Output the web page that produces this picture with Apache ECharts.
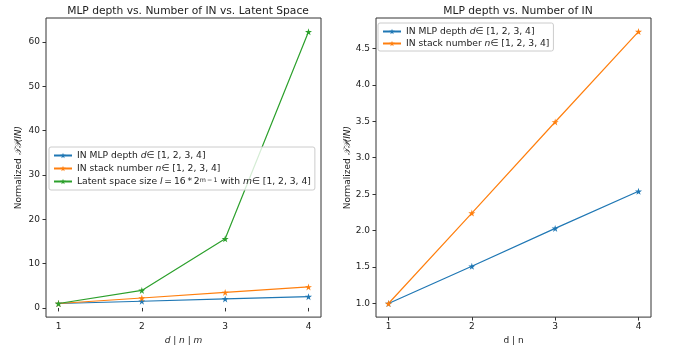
<!DOCTYPE html>
<html><head><meta charset="utf-8">
<script src="https://cdn.jsdelivr.net/npm/echarts@6/dist/echarts.min.js"></script>
<style>html,body{margin:0;padding:0;background:#fff}#c{width:676px;height:350px}</style>
</head><body><div id="c"></div>
<script>
// Data
const xValues = [1, 2, 3, 4];
const mlpDepth = [1.0, 1.51, 2.03, 2.54];
const stackNumber = [1.0, 2.24, 3.49, 4.73];
const latentSpace = [1.0, 3.95, 15.6, 62.3];
const xTicks = [1, 2, 3, 4];
const leftYTicks = [0, 10, 20, 30, 40, 50, 60];
const rightYTicks = [1.0, 1.5, 2.0, 2.5, 3.0, 3.5, 4.0, 4.5];
const nameA = 'IN MLP depth d\u2208 [1, 2, 3, 4]';
const nameB = 'IN stack number n\u2208 [1, 2, 3, 4]';
const nameC = 'Latent space size';

const FONT = 'DejaVu Sans';
const FS = 9;      // tick / label font
const LFS = 9.2;   // legend font
const STAR = 'path://M50,0 L61,35 L98,35 L68,57 L79,91 L50,70 L21,91 L32,57 L2,35 L39,35 Z';
const colors = {A: '#1f77b4', B: '#ff7f0e', C: '#2ca02c'};

function pairs(ys) { return xValues.map((x, i) => [x, ys[i]]); }

const legendRich = {
  n: {fontFamily: FONT, fontSize: LFS, color: '#222'},
  i: {fontFamily: FONT, fontSize: LFS, color: '#222', fontStyle: 'italic'},
  s: {fontFamily: FONT, fontSize: 6.3, color: '#222', verticalAlign: 'top', lineHeight: 8}
};
function legendFmt(name) {
  if (name === nameA) return '{n|IN MLP depth }{i|d}{n|\u2208 [1, 2, 3, 4]}';
  if (name === nameB) return '{n|IN stack number }{i|n}{n|\u2208 [1, 2, 3, 4]}';
  return '{n|Latent space size }{i|l}{n|\u2009=\u200916\u2009*\u20092}{s|m\u2009\u2212\u20091}{n| with }{i|m}{n|\u2208 [1, 2, 3, 4]}';
}

function xAxis(gi, nameRich) {
  return {
    type: 'value', gridIndex: gi, min: 0.85, max: 4.15,
    name: nameRich, nameLocation: 'middle', nameGap: 18,
    nameTextStyle: {fontFamily: FONT, fontSize: FS, color: '#222', rich: {
      i: {fontFamily: FONT, fontSize: FS, color: '#222', fontStyle: 'italic'},
      n: {fontFamily: FONT, fontSize: FS, color: '#222'}}},
    axisLine: {show: false},
    splitLine: {show: false},
    axisTick: {show: true, length: 3.5, customValues: xTicks, lineStyle: {color: '#333'}},
    axisLabel: {customValues: xTicks, fontFamily: FONT, fontSize: FS, color: '#222', margin: 5}
  };
}
function yAxis(gi, min, max, ticks, dec) {
  return {
    type: 'value', gridIndex: gi, min: min, max: max,
    name: '{n|Normalized }{i|\uD835\uDCAF\uD835\uDCAB(IN)}', nameLocation: 'middle', nameGap: 23,
    nameTextStyle: {rich: {
      n: {fontFamily: FONT, fontSize: FS, color: '#222'},
      i: {fontFamily: FONT, fontSize: FS, color: '#222', fontStyle: 'italic'}}},
    axisLine: {show: false},
    splitLine: {show: false},
    axisTick: {show: true, length: 3.5, customValues: ticks, lineStyle: {color: '#333'}},
    axisLabel: {customValues: ticks, fontFamily: FONT, fontSize: FS, color: '#222', margin: 6,
      formatter: v => dec ? Number(v).toFixed(1) : String(Math.round(v))}
  };
}
function series(name, data, color, xi) {
  return {
    type: 'line', name: name, data: pairs(data), xAxisIndex: xi, yAxisIndex: xi,
    symbol: STAR, symbolSize: 7, showSymbol: true,
    lineStyle: {color: color, width: 1.2}, itemStyle: {color: color},
    animation: false, z: 3
  };
}

const chart = echarts.init(document.getElementById('c'), null, {renderer: 'canvas'});
chart.setOption({
  animation: false,
  backgroundColor: '#fff',
  title: [
    {text: 'MLP depth vs. Number of IN vs. Latent Space', left: 183, top: 1, textAlign: 'center',
      textStyle: {fontFamily: FONT, fontSize: 10.7, fontWeight: 'normal', color: '#222'}},
    {text: 'MLP depth vs. Number of IN', left: 513, top: 1, textAlign: 'center',
      textStyle: {fontFamily: FONT, fontSize: 10.7, fontWeight: 'normal', color: '#222'}}
  ],
  grid: [
    {left: 46, right: 355, top: 18, bottom: 30, show: true, borderColor: '#333', borderWidth: 1, backgroundColor: 'transparent'},
    {left: 376, right: 25, top: 18, bottom: 30, show: true, borderColor: '#333', borderWidth: 1, backgroundColor: 'transparent'}
  ],
  xAxis: [xAxis(0, '{i|d} {n|| }{i|n} {n|| }{i|m}'), xAxis(1, '{n|d | n}')],
  yAxis: [yAxis(0, -2.07, 65.4, leftYTicks, false), yAxis(1, 0.8135, 4.9165, rightYTicks, true)],
  legend: [
    {data: [nameA, nameB, nameC], left: 49, top: 147, orient: 'vertical', itemGap: 4,
      itemWidth: 18, itemHeight: 7, padding: [4, 4, 4, 4],
      borderColor: '#ccc', borderWidth: 1, borderRadius: 2, backgroundColor: 'rgba(255,255,255,0.8)',
      formatter: legendFmt, textStyle: {rich: legendRich}, selectedMode: false},
    {data: [nameA, nameB], left: 378, top: 23, orient: 'vertical', itemGap: 3,
      itemWidth: 18, itemHeight: 7, padding: [4, 4, 3, 4],
      borderColor: '#ccc', borderWidth: 1, borderRadius: 2, backgroundColor: 'rgba(255,255,255,0.8)',
      formatter: legendFmt, textStyle: {rich: legendRich}, selectedMode: false}
  ],
  series: [
    series(nameA, mlpDepth, colors.A, 0),
    series(nameB, stackNumber, colors.B, 0),
    series(nameC, latentSpace, colors.C, 0),
    series(nameA, mlpDepth, colors.A, 1),
    series(nameB, stackNumber, colors.B, 1)
  ]
});
</script></body></html>
